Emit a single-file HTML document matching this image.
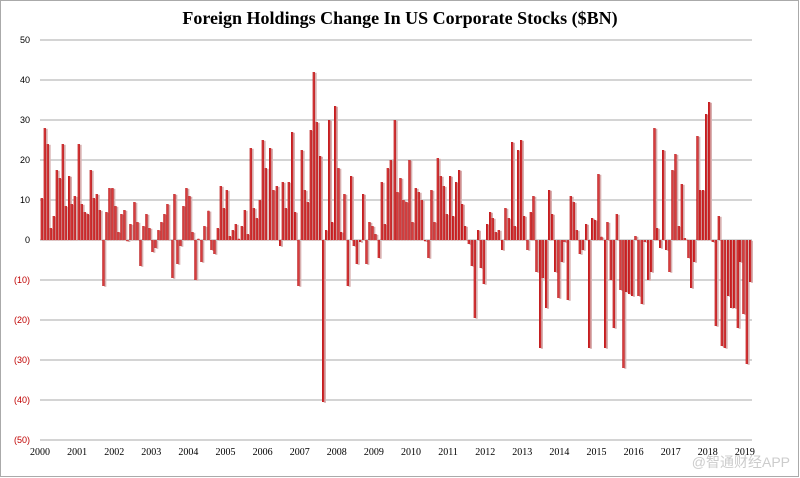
<!DOCTYPE html>
<html><head><meta charset="utf-8"><style>
html,body{margin:0;padding:0;background:#fff}
svg{display:block}
</style></head><body>
<svg id="c" width="800" height="478" xmlns="http://www.w3.org/2000/svg">
<rect x="0.5" y="0.5" width="798" height="476" fill="#fff" stroke="#aaa"/>
<text x="400" y="24" text-anchor="middle" font-family="Liberation Serif, serif" font-weight="bold" font-size="18">Foreign Holdings Change In US Corporate Stocks ($BN)</text>
<g id="g"></g>
<g id="b"></g>
<text x="790" y="467" text-anchor="end" font-family="Liberation Sans, Noto Sans CJK SC, sans-serif" font-size="14" fill="#ccc">@智通财经APP</text>
</svg>
<script>
var ns="http://www.w3.org/2000/svg",g=document.getElementById('g'),b=document.getElementById('b');
function el(t,a,p,tx){var e=document.createElementNS(ns,t);for(var k in a)e.setAttribute(k,a[k]);if(tx!==undefined)e.textContent=tx;p.appendChild(e);return e;}
for(var v=50;v>=-50;v-=10){var y=240-v*4;el('line',{x1:40,x2:752,y1:y,y2:y,stroke:'#aaa','stroke-width':1},g);
el('text',{x:30,y:y+3,'text-anchor':'end','font-family':'Liberation Sans, sans-serif','font-size':9,fill:v<0?'#c00000':'#000'},g,v<0?'('+(-v)+')':String(v));}
var yrs=[2000,2001,2002,2003,2004,2005,2006,2007,2008,2009,2010,2011,2012,2013,2014,2015,2016,2017,2018,2019];
yrs.forEach(function(yr,i){el('text',{x:40+i*37.1,y:455,'text-anchor':'middle','font-family':'Liberation Serif, serif','font-size':10},g,String(yr));});
var z1=[35,10.5,44,28,53,24,62,3,71,6,80,17.5,89,15.5,98,24,107,8.5,117,16,125,9,134,11,146,24,155,9,164,7,173,6.5,182,17.5,191,10.5,200,11.5,209,7.5,220,-11.5,229,7,238,13,247,13,256,8.5,265,2,274,6.5,283,7.5,292,-0.3,301,4,313,9.5,322,4.5,331,-6.5,340,3.5,349,6.5,358,3,367,-3,376,-2,385,2.5,394,4.5,403,6.5,412,9,427,-9.5,433,11.5,442,-6,451,-1.5,460,8.5,469,13,478,11,487,2,496,-10,505,0.3,514,-5.5,523,3.5,535,7.3,544,-2.5,553,-3.5,563,3,572,13.5,581,8,590,12.5,599,1,608,2.5,617,4,626,0.3,635,3.5,644,7.5,653,1.5,662,23,671,8,680,5.5,689,10,698,25,707,18];
var z2=[0,23,10,12.5,20,13.5,30,-1.5,38,14.5,47,8,56,14.5,66,27,75,7,85,-11.5,95,22.5,104,12.5,113,9.5,122,27.5,131,42,140,29.5,150,21,159,-40.5,168,2.5,177,30,186,4.5,195,33.5,205,18,213,2,223,11.5,233,-11.5,243,16,251,-1.5,260,-6,270,-0.5,279,11.5,289,-6,298,4.5,307,3.5,316,1.5,326,-4.5,335,14.5,344,4,353,18,362,20,374,30,382,12,391,15.5,400,10,409,9.5,418,20,427,4.5,437,13,446,12,455,10,465,-0.3,475,-4.5,484,12.5,493,4.5,503,20.5,512,16,521,13.5,530,6.5,540,16,549,6,558,14.5,567,17.5,576,9,585,3.5,596,-1,605,-6.5,614,-19.5,624,2.5,632,-7,641,-11,651,4,660,7,668,5.5,677,2,686,2.5,696,-2.5,706,8,716,5.5];
var z3=[6,24.5,14,3.5,24,22.5,33,25,42,6,52,-2.5,62,7,70,11,79,-8,90,-27,98,-9.5,108,-17,117,12.5,126,6.5,135,-8,145,-14.5,155,-5.5,163,-0.5,173,-15,182,11,191,9.5,200,2.5,209,-3.5,218,-2.5,228,4,237,-27,246,5.5,255,5,265,16.5,274,0.8,285,-27,292,4.5,302,-10,311,-22,320,6.5,331,-12.5,340,-32,348,-13,357,-13.5,366,-14,376,1,385,-14,395,-16,404,-0.5,414,-10,423,-8,433,28,441,3,450,-2,459,22.5,468,-2.5,478,-8,487,17.5,496,21.5,506,3.5,515,14,524,0.5,535,-4.5,543,-12,552,-5.5,562,26,570,12.5,579,12.5,588,31.5,597,34.5,608,-0.5,617,-21.5,626,6,635,-26.5,644,-27,654,-14,663,-17,672,-17,683,-22,690,-5.5,700,-18.5,710,-31,720,-10.5];
function draw(a,off){for(var i=0;i<a.length;i+=2){var x=off+a[i]/3,v=a[i+1],y0=240,y1=240-v*4;var top=Math.min(y0,y1),h=Math.max(Math.abs(y1-y0),0.8);
el('rect',{x:x+0.8,y:top+0.8,width:2.2,height:h,fill:'#d8b0b0'},b);
el('rect',{x:x-1,y:top,width:2.2,height:h,fill:'#b80d10'},b);
el('rect',{x:x-0.3,y:top,width:0.8,height:h,fill:'#e04848'},b);}}
draw(z1,30);draw(z2,270);draw(z3,510);
</script>
</body></html>
